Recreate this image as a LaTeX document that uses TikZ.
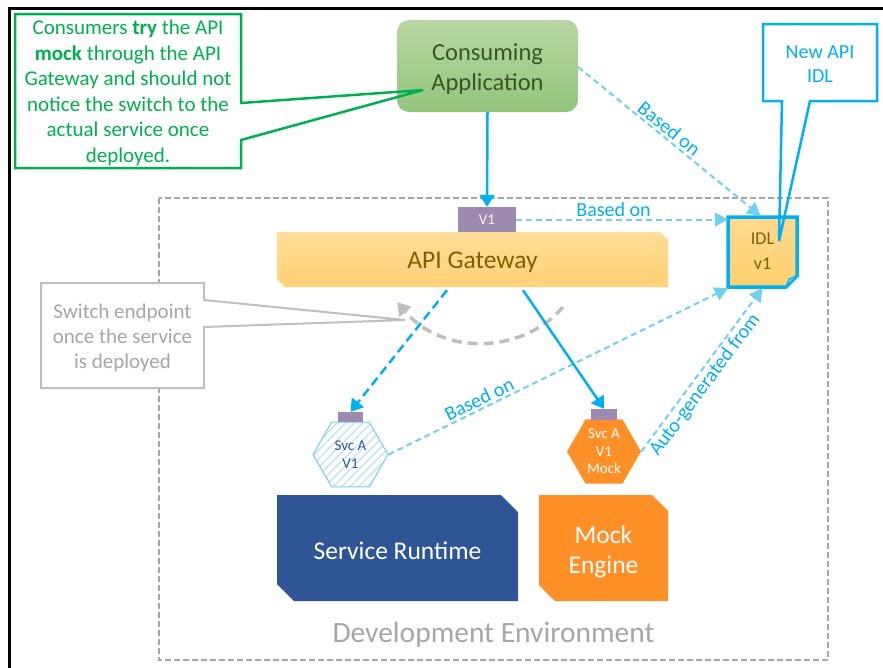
\documentclass[tikz,border=0pt]{standalone}
\usepackage{fontspec}
\setmainfont{Carlito}
\usetikzlibrary{arrows.meta,shapes.geometric,patterns.meta,calc}
\definecolor{cblue}{HTML}{00B0F0}
\definecolor{lblue}{HTML}{72CFF4}
\definecolor{hatch}{HTML}{A8DDF5}
\definecolor{cgreen}{HTML}{00B050}
\definecolor{cgray}{HTML}{A6A6A6}
\definecolor{lgray}{HTML}{BFBFBF}
\definecolor{purp}{HTML}{9C8AB0}
\definecolor{navy}{HTML}{2F5597}
\definecolor{orng}{HTML}{FF9027}
\definecolor{brownt}{HTML}{7F6000}
\definecolor{dgreen}{HTML}{375623}
\definecolor{appTop}{HTML}{B7D7A2}
\definecolor{appBot}{HTML}{94C47C}
\definecolor{gwTop}{HTML}{FFDC98}
\definecolor{gwBot}{HTML}{FFD277}
\definecolor{idlTop}{HTML}{FFD98E}
\definecolor{idlBot}{HTML}{FFD070}
\begin{document}
\begin{tikzpicture}[x=1pt,y=-1pt,
  lbl/.style={text=cblue, font=\fontsize{20}{24}\selectfont, inner sep=2pt},
  based/.style={draw=lblue, line width=2pt, dash pattern=on 6pt off 4pt, -{Triangle[length=13pt,width=14pt,fill=lblue]}},
  solidarrow/.style={draw=cblue, line width=2.5pt, -{Triangle[length=12pt,width=15pt,fill=cblue]}},
  dasharrow/.style={solidarrow, dash pattern=on 9pt off 5pt},
  tab/.style={fill=purp, inner sep=0pt},
  hexa/.style={regular polygon, regular polygon sides=6, inner sep=0pt, align=center, font=\fontsize{15}{17.5}\selectfont},
  bigtext/.style={font=\fontsize{25.5}{30}\selectfont, align=center},
]
\useasboundingbox (0,0) rectangle (883,667);
\fill[white] (0,0) rectangle (883,667);

% development environment
\draw[cgray, line width=1.8pt, dash pattern=on 6pt off 3pt] (159,198) rectangle (828,660);
\node[text=cgray, font=\fontsize{29.5}{32}\selectfont] (devlbl) at (493.5,635) {Development Environment};

% outer frame
\draw[black, line width=3pt] (9,675) -- (9,8) -- (890,8);

% gray callout
\fill[white] (41,283) rectangle (204,388);
\draw[lgray, line width=2pt, line join=miter] (204,300) -- (204,283) -- (41,283) -- (41,388) -- (204,388) -- (204,327) -- (405,320) -- cycle;
\node[text=cgray, font=\fontsize{21}{25}\selectfont, align=center] (switchtxt) at (122.5,338) {Switch endpoint\\once the service\\is deployed};

% gray switch curve
\coordinate (cs) at (563,307);
\coordinate (ce) at (397,302);
\draw[lgray, line width=3.5pt, dash pattern=on 10pt off 6pt, -{Triangle[length=13pt,width=15pt,fill=lgray]}]
  (cs) .. controls (525,352) and (445,358) .. (ce);

% consuming application
\node[rounded corners=12pt, top color=appTop, bottom color=appBot, minimum width=181pt, minimum height=92pt] (app) at (487.5,66) {};
\node[text=dgreen, font=\fontsize{24.5}{30}\selectfont, align=center] (apptxt) at (487.5,69) {Consuming\\Application};

% API gateway
\shade[top color=gwTop, bottom color=gwBot] (277,232) -- (660,232) -- (668,240) -- (668,287) -- (285,287) -- (277,279) -- cycle;
\node[bigtext, text=brownt, minimum width=391pt, minimum height=55pt] (gw) at (472.5,262.5) {API Gateway};

% V1 tab
\node[tab, minimum width=58pt, minimum height=25pt, text=white!90!purp, font=\fontsize{15}{18}\selectfont] (v1) at (487,219.5) {V1};

% IDL document
\path[draw=cblue, line width=3.5pt, top color=idlTop, bottom color=idlBot, line join=miter]
  (728,217) -- (797,217) -- (797,276) -- (786,287) -- (728,287) -- cycle;
\filldraw[draw=cblue, fill=lblue, line width=1.2pt] (786,287) -- (789,279) -- (797,276) -- cycle;
\node[text=brownt, font=\fontsize{18}{25}\selectfont, align=center, minimum width=69pt, minimum height=70pt] (idl) at (762.5,251) {IDL\\v1};

% service hexagon (hatched)
\node[hexa, minimum size=75pt, draw=lblue, line width=1pt,
      pattern={Lines[angle=45,distance=6pt,line width=0.9pt]}, pattern color=hatch, text=navy] (svcA) at (350.5,454.5) {Svc A\\V1};
\node[tab, minimum width=25pt, minimum height=10pt] (tabA) at (350.5,417) {};

% mock hexagon
\node[hexa, minimum size=74pt, fill=orng, text=white] (mock) at (604,451.5) {Svc A\\V1\\Mock};
\node[tab, minimum width=26pt, minimum height=11pt] (tabM) at (604,414.5) {};

% service runtime
\fill[navy] (277,495) -- (501,495) -- (518,512) -- (518,601) -- (294,601) -- (277,584) -- cycle;
\node[bigtext, text=white] (sr) at (397.5,550.5) {Service Runtime};

% mock engine
\fill[orng] (539,495) -- (652,495) -- (668,511) -- (668,601) -- (555,601) -- (539,585) -- cycle;
\node[bigtext, text=white] (me) at (603.5,552) {Mock\\Engine};

% connectors
\draw[solidarrow] (app.south) -- (v1.north);
\draw[based] (v1.east) -- (v1.east -| idl.west) node[lbl, pos=0.46, above] {Based on};
\draw[based] ([yshift=-1pt]app.east) -- ([xshift=-2pt]idl.north) node[lbl, pos=0.465, above, sloped] {Based on};
\draw[based] (svcA.east) -- ([yshift=-2pt]idl.south west) node[lbl, pos=0.28, above, sloped] {Based on};
\draw[based] (mock.east) -- ([yshift=-2pt]idl.south) node[lbl, pos=0.45, below, sloped] {Auto-generated from};
\draw[dasharrow] ([xshift=-25.5pt]gw.south) -- (tabA.north);
\draw[solidarrow] ([xshift=50.5pt]gw.south) -- (tabM.north);

% green callout
\fill[white] (15,14) rectangle (241,168);
\draw[cgreen, line width=2.5pt, line join=miter] (241,103) -- (241,14) -- (15,14) -- (15,168) -- (241,168) -- (241,140) -- (423,90) -- cycle;
\node[text=cgreen, font=\fontsize{21}{25.5}\selectfont, align=center] (greentxt) at (128,93)
  {Consumers \textbf{try} the API\\\textbf{mock} through the API\\Gateway and should not\\notice the switch to the\\actual service once\\deployed.};

% blue callout
\fill[white] (763,24) rectangle (877,101);
\draw[cblue, line width=2.5pt, line join=miter] (782,101) -- (763,101) -- (763,24) -- (877,24) -- (877,101) -- (810,101) -- (779,241) -- cycle;
\node[text=cblue, font=\fontsize{20}{24}\selectfont, align=center] (newidl) at (820,64) {New API\\IDL};
\end{tikzpicture}
\end{document}
